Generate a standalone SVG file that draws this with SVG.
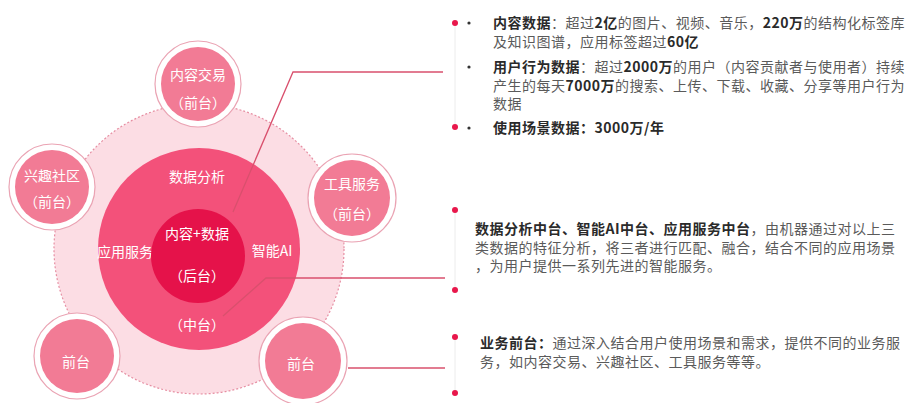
<svg xmlns="http://www.w3.org/2000/svg" width="912" height="403" viewBox="0 0 912 403">
<style>
.ct{font-family:"Noto Sans CJK SC","Noto Sans",sans-serif;font-size:14px;fill:#fff;text-anchor:middle}
.tx{font-family:"Noto Sans CJK SC","Noto Sans",sans-serif;font-size:14px;letter-spacing:0.5px;fill:#5a5a5a}
.b{font-weight:bold;fill:#2a2a2a}
.ring{fill:#fff;stroke:#eaa3b3;stroke-width:1.2}
.sm{fill:#f27b95}
.conn{fill:none;stroke:#d9506d;stroke-width:1.3}
.dot{fill:#e8174b}
.blt{fill:#333}
.vl{stroke:#ececec;stroke-width:1}
</style>
<rect width="912" height="403" fill="#fff"/>
<g id="outer">
<circle cx="199" cy="249" r="145" fill="#fcdde4" stroke="#e68ea2" stroke-width="1.2" stroke-dasharray="2 2"/>
</g>
<g id="middle">
<circle cx="199" cy="249" r="101" fill="#f3517a"/>
<text class="ct" x="197" y="182">数据分析</text>
<text class="ct" x="125" y="257">应用服务</text>
<text class="ct" x="272" y="256">智能AI</text>
<text class="ct" x="197" y="330">（中台）</text>
</g>
<g id="inner">
<circle cx="198" cy="256" r="47" fill="#e5124a"/>
<text class="ct" x="197" y="239">内容+数据</text>
<text class="ct" x="197" y="281">（后台）</text>
</g>
<g id="n-content-trade">
<circle class="ring" cx="198" cy="84" r="43"/>
<circle class="sm" cx="198" cy="84" r="37"/>
<text class="ct" x="198" y="80">内容交易</text>
<text class="ct" x="198" y="108">（前台）</text>
</g>
<g id="n-community">
<circle class="ring" cx="52" cy="187" r="43"/>
<circle class="sm" cx="52" cy="187" r="37"/>
<text class="ct" x="52" y="181">兴趣社区</text>
<text class="ct" x="52" y="207">（前台）</text>
</g>
<g id="n-tools">
<circle class="ring" cx="352" cy="198" r="44"/>
<circle class="sm" cx="352" cy="198" r="38"/>
<text class="ct" x="352" y="189">工具服务</text>
<text class="ct" x="352" y="219">（前台）</text>
</g>
<g id="n-front-left">
<circle class="ring" cx="77" cy="356" r="43"/>
<circle class="sm" cx="77" cy="356" r="37"/>
<text class="ct" x="76" y="367">前台</text>
</g>
<g id="n-front-right">
<circle class="ring" cx="303" cy="361" r="44"/>
<circle class="sm" cx="303" cy="361" r="38"/>
<text class="ct" x="301" y="369">前台</text>
</g>
<g id="connectors">
<polyline class="conn" points="233,212 293,72 443,72"/>
<polyline class="conn" points="223,316 266,278 445,278"/>
<polyline class="conn" points="348,368 445,368"/>
</g>
<g id="bullets">
<line class="vl" x1="455" y1="23" x2="455" y2="127"/>
<line class="vl" x1="455" y1="210" x2="455" y2="290"/>
<line class="vl" x1="455" y1="337" x2="455" y2="393"/>
<circle class="dot" cx="455" cy="23" r="3"/>
<circle class="dot" cx="455" cy="127" r="3"/>
<circle class="dot" cx="455" cy="210" r="3"/>
<circle class="dot" cx="455" cy="290" r="3"/>
<circle class="dot" cx="455" cy="337" r="3"/>
<circle class="dot" cx="455" cy="393" r="3"/>
<circle class="blt" cx="469" cy="23" r="1.6"/>
<circle class="blt" cx="469" cy="67" r="1.6"/>
<circle class="blt" cx="469" cy="128" r="1.6"/>
</g>
<g id="text-data">
<text class="tx" x="493" y="28"><tspan class="b">内容数据</tspan>：超过<tspan class="b">2亿</tspan>的图片、视频、音乐，<tspan class="b">220万</tspan>的结构化标签库</text>
<text class="tx" x="493" y="47">及知识图谱，应用标签超过<tspan class="b">60亿</tspan></text>
<text class="tx" x="493" y="72"><tspan class="b">用户行为数据</tspan>：超过<tspan class="b">2000万</tspan>的用户（内容贡献者与使用者）持续</text>
<text class="tx" x="493" y="90.5">产生的每天<tspan class="b">7000万</tspan>的搜索、上传、下载、收藏、分享等用户行为</text>
<text class="tx" x="493" y="109">数据</text>
<text class="tx" x="493" y="133"><tspan class="b">使用场景数据：3000万/年</tspan></text>
</g>
<g id="text-middle">
<text class="tx" x="475" y="234"><tspan class="b">数据分析中台、智能AI中台、应用服务中台</tspan>，由机器通过对以上三</text>
<text class="tx" x="475" y="252.5">类数据的特征分析，将三者进行匹配、融合，结合不同的应用场景</text>
<text class="tx" x="475" y="271">，为用户提供一系列先进的智能服务。</text>
</g>
<g id="text-front">
<text class="tx" x="480" y="348"><tspan class="b">业务前台：</tspan>通过深入结合用户使用场景和需求，提供不同的业务服</text>
<text class="tx" x="480" y="367">务，如内容交易、兴趣社区、工具服务等等。</text>
</g>
</svg>
